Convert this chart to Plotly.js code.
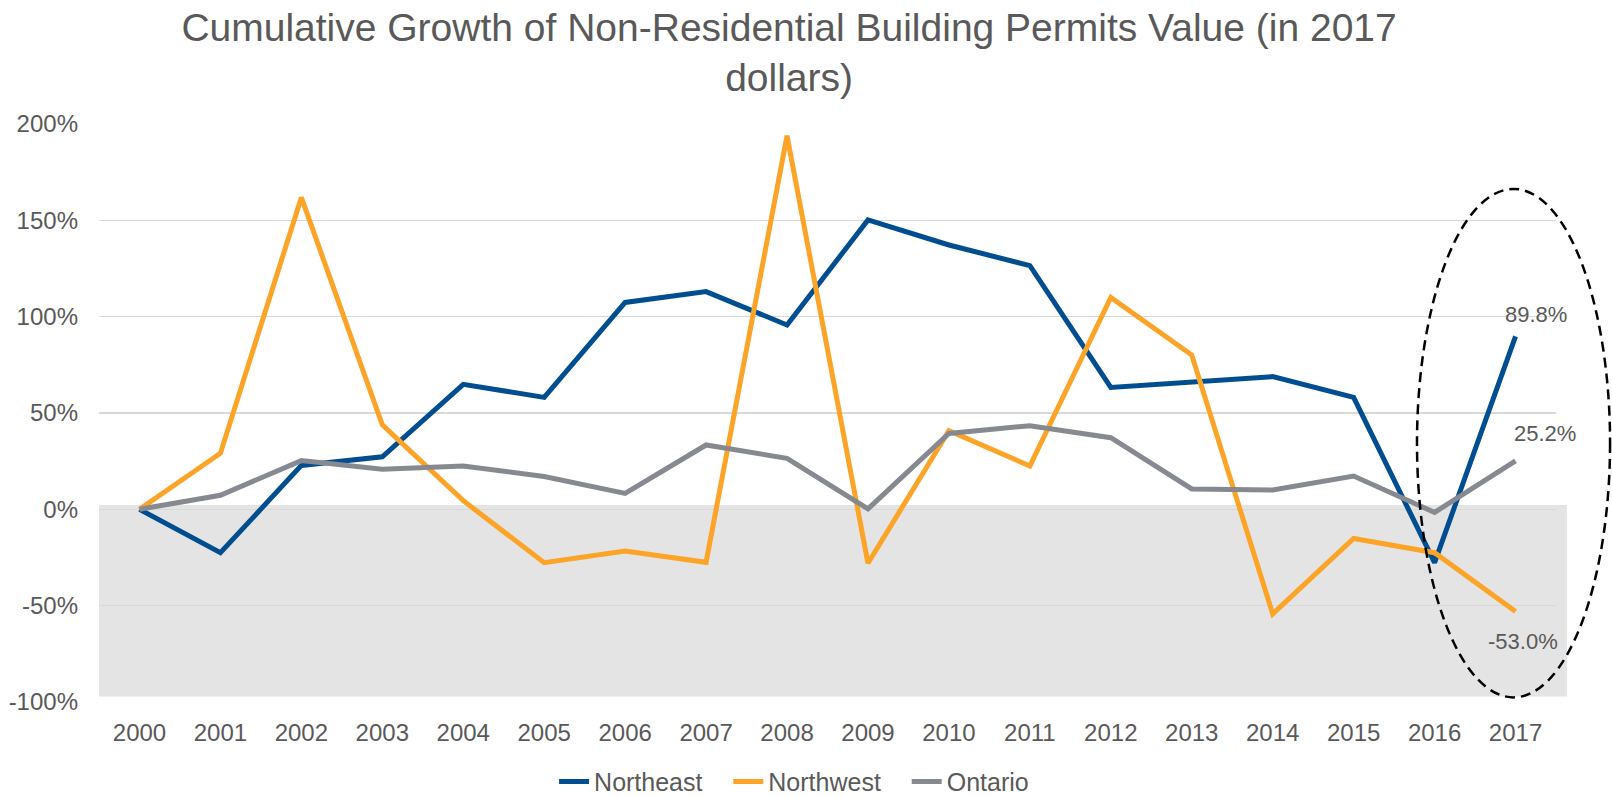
<!DOCTYPE html>
<html>
<head>
<meta charset="utf-8">
<script src="https://cdn.plot.ly/plotly-3.0.1.min.js"></script>
<style>
  html, body { margin: 0; padding: 0; background: #ffffff; }
  #chart { width: 1612px; height: 797px; }
</style>
</head>
<body>
<div id="chart"></div>
<script>
// ---- data ----
const years = ['2000','2001','2002','2003','2004','2005','2006','2007','2008',
               '2009','2010','2011','2012','2013','2014','2015','2016','2017'];
const northeast = [0, -22.5, 22.8, 27.3, 64.9, 58.1, 107.4, 113.0, 95.7,
                   150.2, 137.2, 126.5, 63.3, 66.3, 68.9, 58.1, -27.7, 89.8];
const northwest = [0, 29.1, 161.9, 43.8, 4.5, -27.7, -21.6, -27.5, 193.9,
                   -28.0, 40.8, 22.5, 110.0, 80.1, -54.3, -15.1, -22.5, -53.0];
const ontario   = [0, 7.3, 25.3, 20.8, 22.5, 17.0, 8.3, 33.4, 26.5,
                   0.2, 39.4, 43.4, 37.2, 10.6, 10.0, 17.3, -1.6, 25.2];
const seriesNames = ['Northeast', 'Northwest', 'Ontario'];
const yTickVals = [-100, -50, 0, 50, 100, 150, 200];
const yTickText = ['-100%', '-50%', '0%', '50%', '100%', '150%', '200%'];
const titleText = 'Cumulative Growth of Non-Residential Building Permits Value (in 2017<br>dollars)';

// ---- styling ----
const FONT = '"Liberation Sans", Arial, sans-serif';
const TXT = '#595959';
const colors = ['#004E8F', '#FBA428', '#868A90'];
const seriesVals = [northeast, northwest, ontario];
const NBSP = '\u00a0\u00a0\u00a0';

const traces = seriesVals.map((vals, i) => ({
  type: 'scatter',
  mode: 'lines',
  name: seriesNames[i] + (i < seriesVals.length - 1 ? NBSP : ''),
  x: years,
  y: vals,
  line: { color: colors[i], width: 5 },
  hoverinfo: 'skip'
}));

const last = years.length - 1;
const fmt = v => v.toFixed(1) + '%';
const labelShifts = [[20, 22], [7, -30], [29, 27]];
const annotations = seriesVals.map((vals, i) => ({
  x: last, y: vals[last], xref: 'x', yref: 'y',
  text: fmt(vals[last]), showarrow: false,
  xanchor: 'center', yanchor: 'middle',
  xshift: labelShifts[i][0], yshift: labelShifts[i][1],
  font: { family: FONT, size: 22, color: TXT }
}));

const layout = {
  width: 1612, height: 797,
  margin: { l: 99, r: 56, t: 124, b: 95 },
  paper_bgcolor: '#ffffff',
  plot_bgcolor: 'rgba(0,0,0,0)',
  font: { family: FONT, color: TXT },
  title: {
    text: titleText,
    font: { family: FONT, size: 39, color: TXT },
    xref: 'container', x: 0.4895, xanchor: 'center',
    yref: 'container', y: 0.949, yanchor: 'top'
  },
  xaxis: {
    type: 'category',
    range: [-0.5, years.length - 0.5],
    showgrid: false, zeroline: false, showline: false,
    ticks: '', ticklabelstandoff: 14,
    tickfont: { family: FONT, size: 24, color: TXT },
    fixedrange: true
  },
  yaxis: {
    range: [-100, 200],
    tickvals: yTickVals, ticktext: yTickText,
    showgrid: true, gridcolor: '#D9D9D9', gridwidth: 1.5,
    zeroline: false, showline: false, ticks: '',
    ticklabelstandoff: 20,
    tickfont: { family: FONT, size: 24, color: TXT },
    fixedrange: true
  },
  showlegend: true,
  legend: {
    orientation: 'h',
    xref: 'container', yref: 'container',
    x: 0.4926, xanchor: 'center',
    y: 0.048, yanchor: 'top',
    font: { family: FONT, size: 25, color: TXT },
    traceorder: 'normal'
  },
  shapes: [
    {
      type: 'rect', layer: 'below',
      xref: 'paper', yref: 'y',
      x0: 0, x1: 1.0075, y0: -97.1, y1: 2.2,
      fillcolor: '#E4E4E4', line: { width: 0 }
    },
    {
      type: 'circle', layer: 'above',
      xref: 'paper', yref: 'y',
      x0: 0.9046, x1: 1.0371, y0: -97.6, y1: 166.3,
      fillcolor: 'rgba(0,0,0,0)',
      line: { color: '#000000', width: 2.5, dash: '10px,6px' }
    }
  ],
  annotations: annotations
};

Plotly.newPlot('chart', traces, layout, { displayModeBar: false, staticPlot: true });
</script>
</body>
</html>
